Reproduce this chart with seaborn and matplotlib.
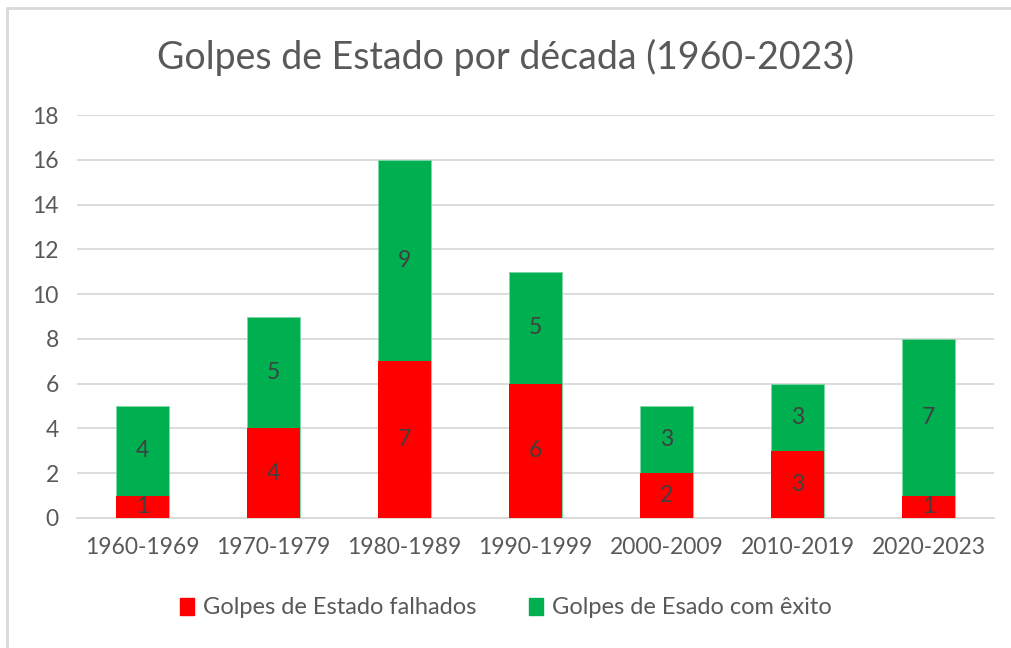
import matplotlib
matplotlib.use("Agg")
import matplotlib.pyplot as plt
from matplotlib.patches import Patch
from matplotlib.lines import Line2D
import seaborn as sns
import pandas as pd

decades = ["1960-1969", "1970-1979", "1980-1989", "1990-1999", "2000-2009", "2010-2019", "2020-2023"]
failed = [1, 4, 7, 6, 2, 3, 1]
success = [4, 5, 9, 5, 3, 3, 7]
series_names = ["Golpes de Estado falhados", "Golpes de Esado com êxito"]
title = "Golpes de Estado por década (1960-2023)"

RED = "#ff0000"
GREEN = "#00b050"
TXT = "#595959"
GRID = "#d9d9d9"

sns.set_theme(style="white")
plt.rcParams["font.family"] = ["Lato", "DejaVu Sans"]

df = pd.DataFrame({"decade": decades, "failed": failed, "success": success})
df["total"] = df["failed"] + df["success"]

fig = plt.figure(figsize=(10.12, 6.48), dpi=100)
ax = fig.add_axes([77 / 1012, 1 - 518 / 648, (994 - 77) / 1012, (518 - 115) / 648])

sns.barplot(data=df, x="decade", y="total", color=GREEN, width=0.405, ax=ax,
            saturation=1, edgecolor="#7fd7a7", linewidth=0.6, zorder=3)
sns.barplot(data=df, x="decade", y="failed", color=RED, width=0.405, ax=ax,
            saturation=1, linewidth=0, zorder=3)

for i, (f, s) in enumerate(zip(failed, success)):
    ax.text(i, f + s / 2, str(s), ha="center", va="center", color="#404040", fontsize=16.5, zorder=5)
    ax.text(i, f / 2, str(f), ha="center", va="center", color="#404040", fontsize=16.5, zorder=5)

ax.set_ylim(0, 18)
ax.set_xlim(-0.5, 6.5)
ax.set_yticks(range(0, 19, 2))
ax.yaxis.grid(True, color=GRID, linewidth=1.3, zorder=0)
ax.set_axisbelow(True)
for sp in ["top", "right", "left"]:
    ax.spines[sp].set_visible(False)
ax.spines["bottom"].set_color(GRID)
ax.spines["bottom"].set_linewidth(1.3)
ax.tick_params(axis="both", length=0, colors=TXT, labelsize=16.5)
ax.tick_params(axis="x", pad=14)
ax.tick_params(axis="y", pad=13)
ax.set_xlabel("")
ax.set_ylabel("")

fig.text(0.5, 1 - 57 / 648, title, ha="center", va="center", fontsize=27, color=TXT)

handles = [Patch(facecolor=RED, edgecolor=RED), Patch(facecolor=GREEN, edgecolor=GREEN)]
fig.legend(handles, series_names, loc="center", bbox_to_anchor=(0.5, 1 - 608 / 648),
           ncol=2, frameon=False, fontsize=17, labelcolor=TXT, handlelength=0.6,
           handleheight=0.75, handletextpad=0.4, columnspacing=2.2)

fig.add_artist(Line2D([7 / 1012, 7 / 1012], [0, 1 - 8 / 648], transform=fig.transFigure,
                      color=GRID, linewidth=2))
fig.add_artist(Line2D([7 / 1012, 1], [1 - 8 / 648, 1 - 8 / 648], transform=fig.transFigure,
                      color=GRID, linewidth=2))

fig.savefig("out.png", dpi=100, facecolor="white")
